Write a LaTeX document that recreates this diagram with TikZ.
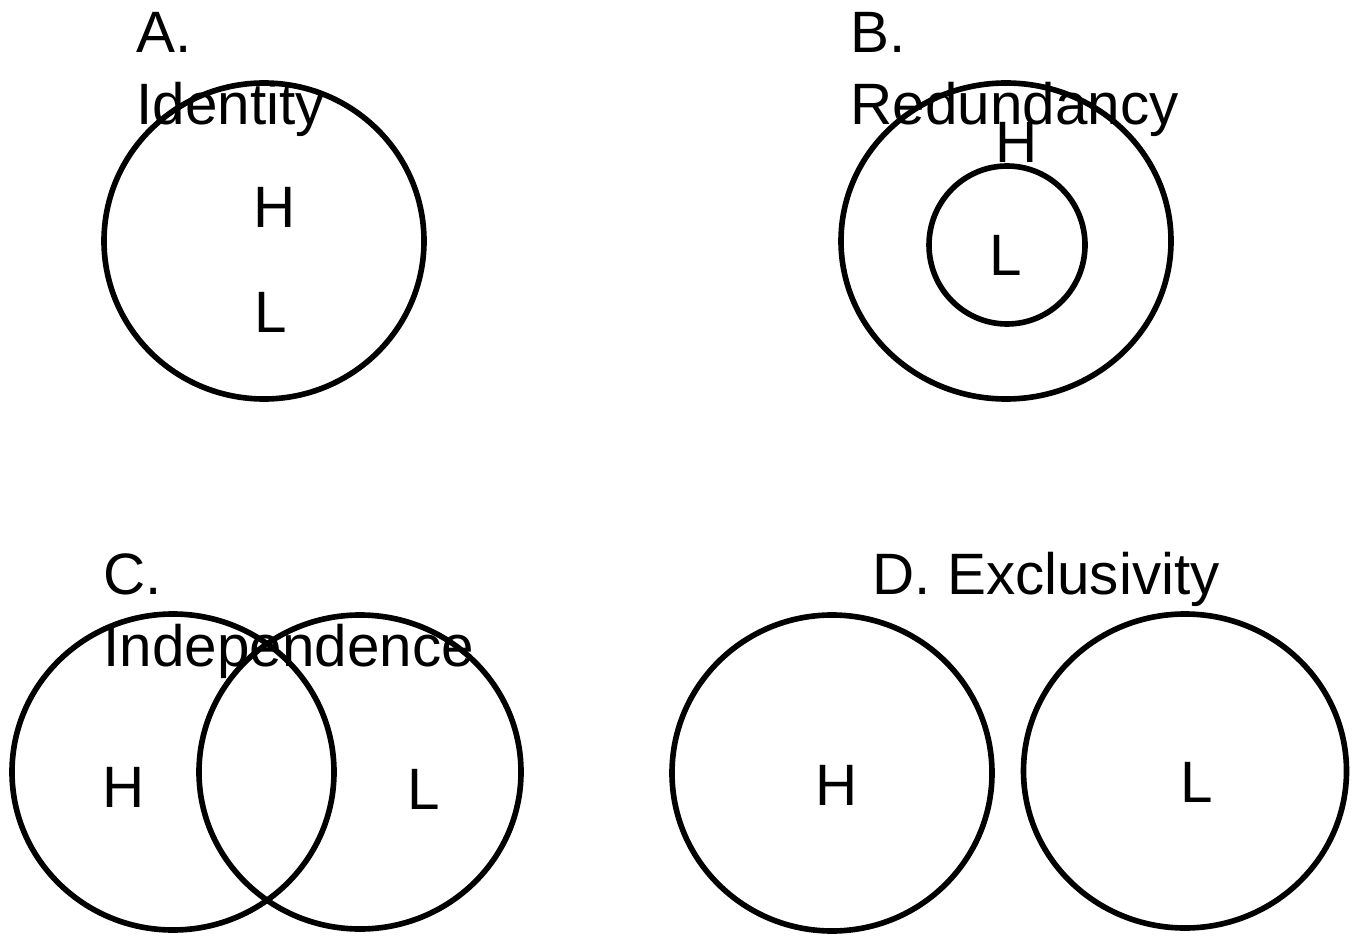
\documentclass[tikz,border=0pt]{standalone}
\usepackage{fontspec}
\setmainfont{Liberation Sans}

\tikzset{
  ring/.style={line width=1.6pt},
  tag/.style={anchor=base west, inner sep=0pt},
  letter/.style={inner sep=0pt}
}

\begin{document}
\begin{tikzpicture}[x=0.01cm, y=-0.01cm, font=\fontsize{16.6}{19}\selectfont]
		\useasboundingbox (0,0) rectangle (1358,937);
		
		% A. Identity
		\coordinate (idA) at (264,241);
		\draw[ring] (idA) ellipse [x radius=160, y radius=158];
		\node[tag] (tagA) at (136,53) {A.};
		\node[tag] (nameA) at (136,125) {Identity};
		\node[letter] (hA) at (275,207) {H};
		\node[letter] (lA) at (271,312) {L};
		
		% B. Redundancy
		\coordinate (outB) at (1006,241);
		\coordinate (inB) at (1007,245);
		\draw[ring] (outB) ellipse [x radius=165, y radius=158];
		\draw[ring] (inB) ellipse [x radius=78, y radius=79];
		\node[tag] (tagB) at (850,53) {B.};
		\node[tag] (nameB) at (850,125) {Redundancy};
		\node[letter] (hB) at (1017,142) {H};
		\node[letter] (lB) at (1006,255) {L};
		
		% C. Independence
		\coordinate (leftC) at (173,772);
		\coordinate (rightC) at (360,772);
		\draw[ring] (leftC) ellipse [x radius=161, y radius=158];
		\draw[ring] (rightC) ellipse [x radius=161, y radius=157];
		\node[tag] (tagC) at (103,594) {C.};
		\node[tag] (nameC) at (103,666) {Independence};
		\node[letter] (hC) at (124,787) {H};
		\node[letter] (lC) at (424,789) {L};
		
		% D. Exclusivity
		\coordinate (leftD) at (832,773);
		\coordinate (rightD) at (1185,771);
		\draw[ring] (leftD) ellipse [x radius=160, y radius=158];
		\draw[ring] (rightD) ellipse [x radius=161.5, y radius=157];
		\node[tag] (tagD) at (872,594) {D. Exclusivity};
		\node[letter] (hD) at (837,785) {H};
		\node[letter] (lD) at (1197,782) {L};
	\end{tikzpicture}
\end{document}
